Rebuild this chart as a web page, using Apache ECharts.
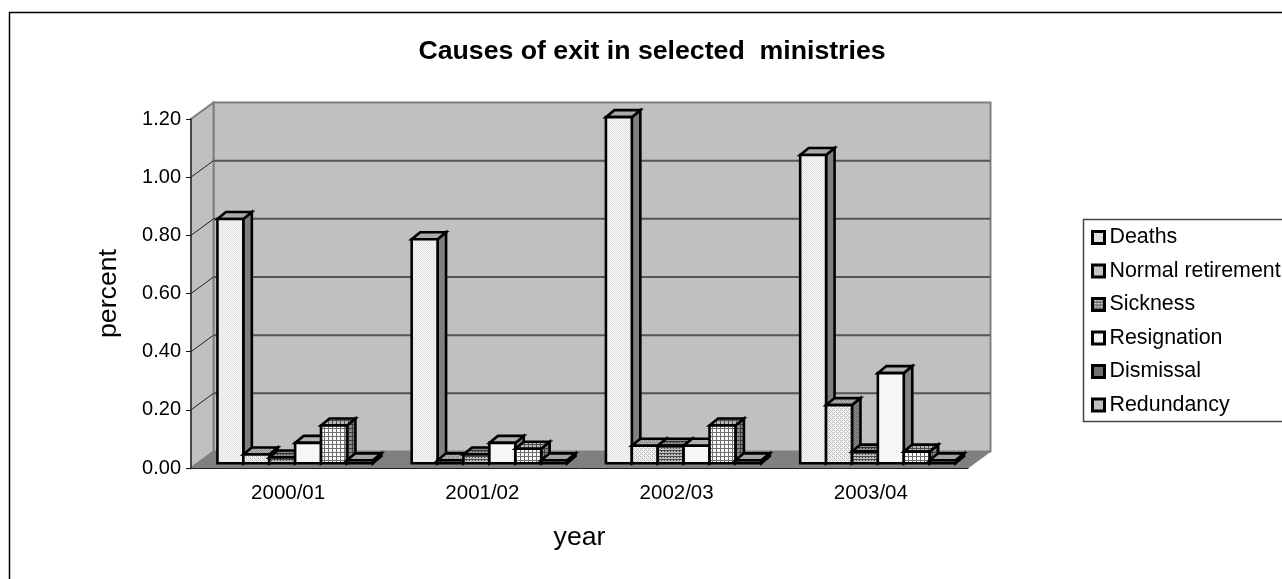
<!DOCTYPE html>
<html>
<head>
<meta charset="utf-8">
<title>Causes of exit in selected ministries</title>
<style>
  html, body { margin: 0; padding: 0; background: #fff; overflow: hidden; }
  #chart { width: 1282px; height: 579px; }
</style>
<script src="https://cdn.jsdelivr.net/npm/echarts@6/dist/echarts.min.js"></script>
</head>
<body>
<div id="chart"></div>
<script>
// Exit rates (percent) by financial year
const years = ['2000/01', '2001/02', '2002/03', '2003/04'];
const deaths = [0.84, 0.77, 1.19, 1.06];
const normalRetirement = [0.03, 0.01, 0.06, 0.20];
const sickness = [0.02, 0.03, 0.06, 0.04];
const resignation = [0.07, 0.07, 0.06, 0.31];
const dismissal = [0.13, 0.05, 0.13, 0.04];
const redundancy = [0.01, 0.01, 0.01, 0.01];

const FONT = '"Liberation Sans", Arial, sans-serif';

// Cell patterns for the bar fills: each digit is an index into the shade list
function makePattern(rows, shades, factor) {
  const h = rows.length, w = rows[0].length;
  const c = document.createElement('canvas');
  c.width = w; c.height = h;
  const ctx = c.getContext('2d');
  rows.forEach((row, y) => {
    for (let x = 0; x < w; x++) {
      const v = Math.round(shades[+row[x]] * factor);
      ctx.fillStyle = `rgb(${v},${v},${v})`;
      ctx.fillRect(x, y, 1, 1);
    }
  });
  return { image: c, repeat: 'repeat' };
}

const styles = [
  { rows: ['01', '10'], shades: [226, 246] },
  { rows: ['0101', '1011', '0101', '1110'], shades: [190, 246] },
  { rows: ['000', '101', '111'], shades: [70, 190] },
  { rows: ['01', '11'], shades: [240, 248] },
  { rows: ['0000', '0111', '0111', '0111'], shades: [110, 250] },
  { rows: ['0'], shades: [226] }
];
const faces = styles.map(s => ({
  front: makePattern(s.rows, s.shades, 1),
  top: makePattern(s.rows, s.shades, 0.72),
  side: makePattern(s.rows, s.shades, 0.54)
}));
const legendFills = [
  makePattern(['0'], [224], 1),
  makePattern(['01', '10'], [170, 224], 1),
  makePattern(['000', '101', '111'], [70, 200], 1),
  makePattern(['0'], [244], 1),
  makePattern(['00', '01'], [70, 240], 1),
  makePattern(['0'], [192], 1)
];

const exitSeries = [
  ['Deaths', deaths],
  ['Normal retirement', normalRetirement],
  ['Sickness', sickness],
  ['Resignation', resignation],
  ['Dismissal', dismissal],
  ['Redundancy', redundancy]
];

// Depth of the plot box and of one bar, in pixels
const BOX_DX = 22.5, BOX_DY = -16.5;
const BAR_DX = 8.5, BAR_DY = -7;
const SHIFT_DX = 7, SHIFT_DY = -4.75;
const yTicks = [0, 0.2, 0.4, 0.6, 0.8, 1.0, 1.2];

function poly(points, style, z2) {
  return { type: 'polygon', shape: { points }, style, z2: z2 || 0 };
}

// Back wall, side wall, floor and the gridlines that wrap around them
function renderBox(params, api) {
  const band = api.size([1, 0])[0];
  const x0 = api.coord([0, 0])[0] - band / 2;
  const x1 = x0 + band * years.length;
  const y0 = api.coord([0, 0])[1];
  const yT = api.coord([0, 1.2])[1];
  const children = [
    poly([[x0 + BOX_DX, y0 + BOX_DY], [x1 + BOX_DX, y0 + BOX_DY], [x1 + BOX_DX, yT + BOX_DY], [x0 + BOX_DX, yT + BOX_DY]],
      { fill: '#c0c0c0', stroke: '#808080', lineWidth: 2 }),
    poly([[x0, y0], [x0 + BOX_DX, y0 + BOX_DY], [x0 + BOX_DX, yT + BOX_DY], [x0, yT]],
      { fill: '#c0c0c0', stroke: '#808080', lineWidth: 2 }),
    poly([[x0, y0], [x1, y0], [x1 + BOX_DX, y0 + BOX_DY], [x0 + BOX_DX, y0 + BOX_DY]],
      { fill: '#808080', stroke: '#808080', lineWidth: 1 })
  ];
  yTicks.slice(1, -1).forEach(v => {
    const y = api.coord([0, v])[1];
    children.push({
      type: 'line',
      shape: { x1: x0, y1: y, x2: x0 + BOX_DX, y2: y + BOX_DY },
      style: { stroke: '#222', lineWidth: 1 }
    });
    children.push({
      type: 'line',
      shape: { x1: x0 + BOX_DX, y1: y + BOX_DY, x2: x1 + BOX_DX, y2: y + BOX_DY },
      style: { stroke: '#555', lineWidth: 2 }
    });
  });
  return { type: 'group', children };
}

// One box-shaped bar: front, top and right faces
function renderBar(seriesIdx) {
  return function (params, api) {
    const band = api.size([1, 0])[0];
    const w = band / 7.5;
    const cx = api.coord([api.value(0), 0])[0];
    const base = api.coord([0, 0])[1] + SHIFT_DY;
    const top = api.coord([0, api.value(1)])[1] + SHIFT_DY;
    const l = cx - 3 * w + seriesIdx * w + SHIFT_DX;
    const r = l + w;
    const edge = { stroke: '#000', lineWidth: 2.6, lineJoin: 'miter' };
    const f = faces[seriesIdx];
    return {
      type: 'group',
      children: [
        poly([[r, base], [r + BAR_DX, base + BAR_DY], [r + BAR_DX, top + BAR_DY], [r, top]],
          Object.assign({ fill: f.side }, edge)),
        poly([[l, top], [r, top], [r + BAR_DX, top + BAR_DY], [l + BAR_DX, top + BAR_DY]],
          Object.assign({ fill: f.top }, edge)),
        poly([[l, base], [r, base], [r, top], [l, top]],
          Object.assign({ fill: f.front }, edge))
      ]
    };
  };
}

const chart = echarts.init(document.getElementById('chart'), null, { renderer: 'canvas' });

chart.setOption({
  animation: false,
  backgroundColor: '#fff',
  title: {
    text: 'Causes of exit in selected  ministries',
    left: 647, top: 33, textAlign: 'center',
    textStyle: { fontFamily: FONT, fontSize: 26.7, fontWeight: 'bold', color: '#000' }
  },
  grid: { left: 191, top: 119, width: 777, height: 349 },
  xAxis: {
    type: 'category',
    data: years,
    z: 5,
    name: 'year',
    nameLocation: 'middle',
    nameGap: 56,
    nameTextStyle: { fontFamily: FONT, fontSize: 26.7, color: '#000' },
    axisLine: { lineStyle: { color: '#222', width: 1 } },
    axisTick: { length: 7, lineStyle: { color: '#555', width: 1 } },
    axisLabel: { fontFamily: FONT, fontSize: 20.5, color: '#000', margin: 15 }
  },
  yAxis: {
    type: 'value',
    min: 0, max: 1.2, interval: 0.2,
    z: 5,
    name: 'percent',
    nameLocation: 'middle',
    nameGap: 69,
    nameTextStyle: { fontFamily: FONT, fontSize: 26.7, color: '#000' },
    splitLine: { show: false },
    axisLine: { show: true, lineStyle: { color: '#333', width: 1.5 } },
    axisTick: { show: true, length: 5, lineStyle: { color: '#111', width: 1 } },
    axisLabel: { fontFamily: FONT, fontSize: 20, color: '#000', margin: 10, formatter: v => v.toFixed(2) }
  },
  legend: {
    orient: 'vertical',
    left: 1091, top: 225.5,
    padding: 0,
    itemWidth: 12, itemHeight: 12,
    itemGap: 9.5,
    selectedMode: false,
    textStyle: { fontFamily: FONT, fontSize: 21.4, color: '#000', lineHeight: 24, padding: 0 },
    data: exitSeries.map(([name], i) => ({
      name,
      icon: 'rect',
      itemStyle: { color: legendFills[i], borderColor: '#000', borderWidth: 3 }
    }))
  },
  graphic: [
    {
      type: 'rect', z: -10, silent: true,
      shape: { x: 9.5, y: 12.5, width: 1400, height: 700 },
      style: { fill: 'none', stroke: '#000', lineWidth: 1.5 }
    },
    {
      type: 'rect', z: -10, silent: true,
      shape: { x: 1083.5, y: 219.5, width: 300, height: 202 },
      style: { fill: '#fff', stroke: '#444', lineWidth: 1.5 }
    }
  ],
  series: [
    {
      type: 'custom', name: 'box', z: 1, silent: true,
      renderItem: renderBox,
      data: [[0, 0]],
      encode: { x: 0, y: 1 }
    }
  ].concat(exitSeries.map(([name, values], i) => ({
    type: 'custom',
    name,
    z: 6 + i,
    silent: true,
    renderItem: renderBar(i),
    itemStyle: { color: legendFills[i] },
    data: values.map((v, k) => [k, v]),
    encode: { x: 0, y: 1 }
  })))
});
</script>
</body>
</html>
